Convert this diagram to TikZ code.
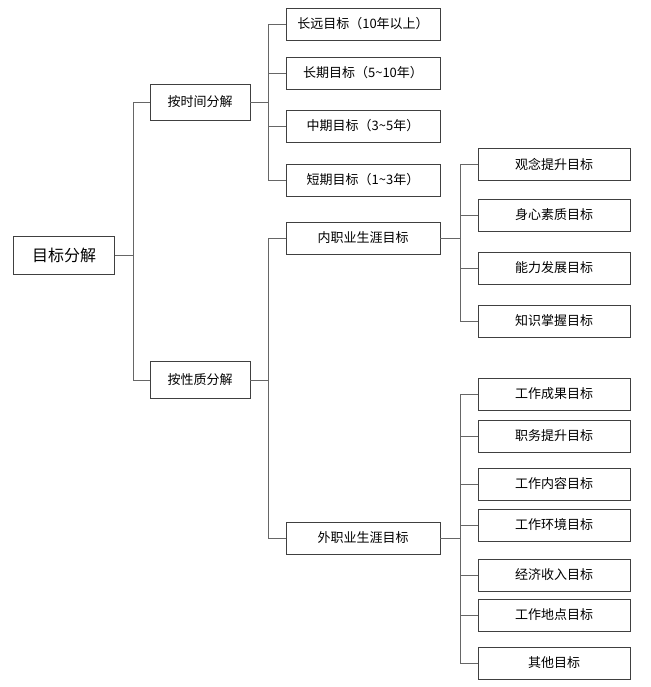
\documentclass[tikz,border=0pt]{standalone}
\usepackage{fontspec}
\newfontfamily\cjk{Noto Sans CJK SC}
\begin{document}
\begin{tikzpicture}[x=1pt,y=-1pt,
  bx/.style={draw=black!75,line width=0.8pt,minimum height=32pt,inner sep=0pt,font=\cjk\fontsize{13}{13}\selectfont},
  ln/.style={draw=black!60,line width=0.8pt}]
\useasboundingbox (0,0) rectangle (650,687);
\node[bx,minimum width=101pt,minimum height=38pt,font=\cjk\fontsize{16}{16}\selectfont] (r) at (64,255) {目标分解};
\node[bx,minimum width=100pt,minimum height=36pt] (t) at (200,102) {按时间分解};
\node[bx,minimum width=100pt,minimum height=37pt] (p) at (200,380) {按性质分解};
\foreach \n/\y/\s in {t1/24/长远目标（10年以上）,t2/73/长期目标（5\textasciitilde10年）,t3/126/中期目标（3\textasciitilde5年）,t4/180/短期目标（1\textasciitilde3年）,in/238/内职业生涯目标,out/538/外职业生涯目标}
  \node[bx,minimum width=154pt] (\n) at (363,\y) {\s};
\foreach \n/\y/\s in {i1/164/观念提升目标,i2/215/身心素质目标,i3/268/能力发展目标,i4/321/知识掌握目标,
  o1/394/工作成果目标,o2/436/职务提升目标,o3/484/工作内容目标,o4/525/工作环境目标,o5/575/经济收入目标,o6/615/工作地点目标,o7/663/其他目标}
  \node[bx,minimum width=152pt] (\n) at (554,\y) {\s};
\coordinate (a) at (133,255);
\draw[ln] (r.east) -- (a);
\foreach \c in {t,p} \draw[ln] (a) |- (\c.west);
\coordinate (b) at (268,102);
\draw[ln] (t.east) -- (b);
\foreach \c in {t1,t2,t3,t4} \draw[ln] (b) |- (\c.west);
\coordinate (c) at (268,380);
\draw[ln] (p.east) -- (c);
\foreach \c in {in,out} \draw[ln] (c) |- (\c.west);
\coordinate (d) at (460,238);
\draw[ln] (in.east) -- (d);
\foreach \c in {i1,i2,i3,i4} \draw[ln] (d) |- (\c.west);
\coordinate (e) at (460,538);
\draw[ln] (out.east) -- (e);
\foreach \c in {o1,o2,o3,o4,o5,o6,o7} \draw[ln] (e) |- (\c.west);
\end{tikzpicture}
\end{document}
